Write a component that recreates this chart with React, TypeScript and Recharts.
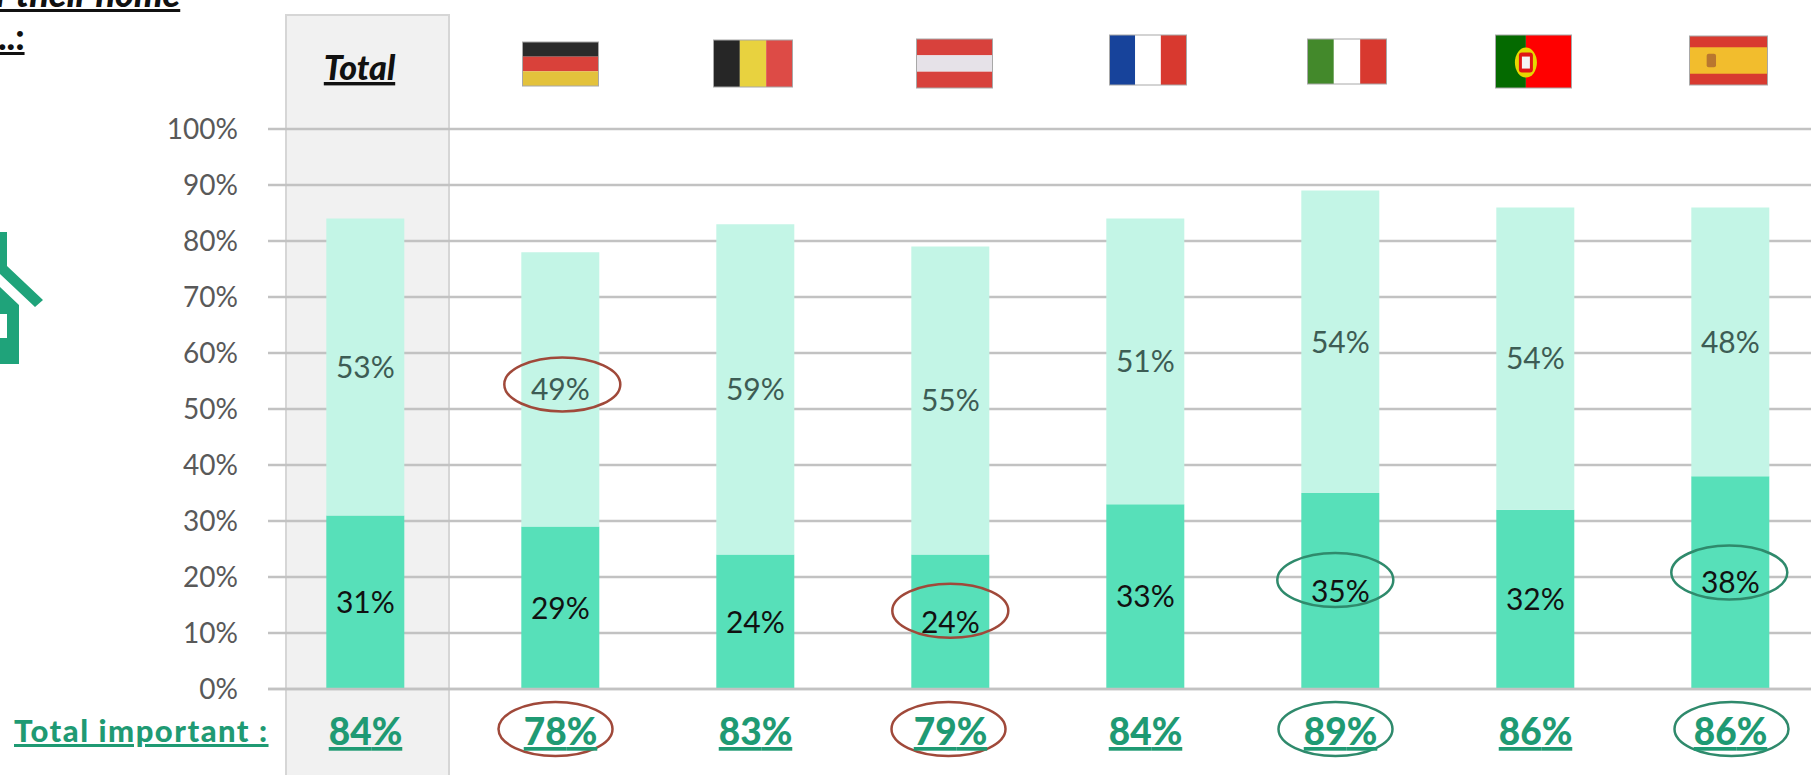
import React from "react";
import { Bar, BarChart, CartesianGrid, LabelList, XAxis, YAxis } from "recharts";

const countries = ["Total", "DE", "BE", "AT", "FR", "IT", "PT", "ES"];
const veryImportant = [31, 29, 24, 24, 33, 35, 32, 38];
const fairlyImportant = [53, 49, 59, 55, 51, 54, 54, 48];
const totalImportant = [84, 78, 83, 79, 84, 89, 86, 86];
const yTicks = [0, 10, 20, 30, 40, 50, 60, 70, 80, 90, 100];

const rows = countries.map((country, i) => ({
  country,
  veryImportant: veryImportant[i],
  fairlyImportant: fairlyImportant[i],
  totalImportant: totalImportant[i],
}));

const RED = "#a0493a";
const GREEN = "#2f8a6c";
const TEXT_GREEN = "#1f9a73";
const FONT = "Lato, sans-serif";

// hand drawn ovals on the slide: colour and offset from the label
const lightOvals: Record<string, [string, number, number]> = { DE: [RED, 2, -5] };
const darkOvals: Record<string, [string, number, number]> = {
  AT: [RED, 0, -11],
  IT: [GREEN, -5, -11],
  ES: [GREEN, -1, -10],
};
const totalOvals: Record<string, [string, number]> = {
  DE: [RED, -5],
  AT: [RED, -2],
  IT: [GREEN, -5],
  ES: [GREEN, 1],
};

// flag box relative to the column centre and the top of the plot
const flagBoxes: Record<string, [number, number, number, number]> = {
  DE: [-38, -88, 76, 44],
  BE: [-42, -90, 79, 47],
  AT: [-34, -91, 76, 49],
  FR: [-36, -95, 77, 50],
  IT: [-33, -91, 79, 45],
  PT: [-40, -95, 76, 53],
  ES: [-41, -94, 78, 49],
};

function Stripes({ colors, x, y, w, h, vertical }: any) {
  return (
    <g>
      {colors.map((c: string, i: number) =>
        vertical ? (
          <rect key={i} x={x + (w * i) / colors.length} y={y} width={w / colors.length} height={h} fill={c} />
        ) : (
          <rect key={i} x={x} y={y + (h * i) / colors.length} width={w} height={h / colors.length} fill={c} />
        )
      )}
    </g>
  );
}

function Flag({ code, cx, top }: { code: string; cx: number; top: number }) {
  const [dx, dy, w, h] = flagBoxes[code];
  const x = cx + dx;
  const y = top + dy + 7;
  let body = null;
  if (code === "DE") body = <Stripes colors={["#2b2b2b", "#d9413a", "#e3c23c"]} x={x} y={y} w={w} h={h} />;
  if (code === "BE") body = <Stripes vertical colors={["#262626", "#e8d23f", "#dd4b46"]} x={x} y={y} w={w} h={h} />;
  if (code === "AT") body = <Stripes colors={["#d8413c", "#e6e2e8", "#d8413c"]} x={x} y={y} w={w} h={h} />;
  if (code === "FR") body = <Stripes vertical colors={["#17439b", "#ffffff", "#d8392f"]} x={x} y={y} w={w} h={h} />;
  if (code === "IT") body = <Stripes vertical colors={["#43892b", "#ffffff", "#d8392f"]} x={x} y={y} w={w} h={h} />;
  if (code === "PT")
    body = (
      <g>
        <rect x={x} y={y} width={w * 0.4} height={h} fill="#046a00" />
        <rect x={x + w * 0.4} y={y} width={w * 0.6} height={h} fill="#ff0000" />
        <ellipse cx={x + w * 0.4} cy={y + h * 0.52} rx={11} ry={15} fill="#e6d800" />
        <rect x={x + w * 0.4 - 7} y={y + h * 0.52 - 10} width={14} height={20} rx={3} fill="#e01515" />
        <rect x={x + w * 0.4 - 4} y={y + h * 0.52 - 6} width={8} height={12} fill="#f4f4f4" />
      </g>
    );
  if (code === "ES")
    body = (
      <g>
        <rect x={x} y={y} width={w} height={h} fill="#d83a30" />
        <rect x={x} y={y + h * 0.23} width={w} height={h * 0.54} fill="#f2bd2d" />
        <rect x={x + w * 0.22} y={y + h * 0.36} width={w * 0.12} height={h * 0.28} rx={2} fill="#b9772f" />
      </g>
    );
  return (
    <g>
      {body}
      <rect x={x} y={y} width={w} height={h} fill="none" stroke="#a8a8a8" strokeWidth={1} />
    </g>
  );
}

function TopTick({ x, y, payload }: any) {
  const code = payload.value;
  const plotTop = y;
  if (code === "Total") {
    return (
      <text
        x={x - 6}
        y={plotTop - 43}
        textAnchor="middle"
        fontFamily={FONT}
        fontSize={34}
        fontWeight={900}
        fontStyle="italic"
        textDecoration="underline"
        fill="#111"
      >
        Total
      </text>
    );
  }
  return <Flag code={code} cx={x} top={plotTop} />;
}

function BottomTick({ x, y, payload, index }: any) {
  const code = payload.value;
  const oval = totalOvals[code];
  return (
    <g>
      {oval && (
        <ellipse cx={x + oval[1]} cy={y + 34} rx={57} ry={27} fill="none" stroke={oval[0]} strokeWidth={2.5} />
      )}
      <text
        x={x}
        y={y + 50}
        textAnchor="middle"
        fontFamily={FONT}
        fontSize={37}
        fontWeight={900}
        textDecoration="underline"
        fill={TEXT_GREEN}
      >
        {totalImportant[index]}%
      </text>
    </g>
  );
}

const segmentLabel = (ovals: Record<string, [string, number, number]>, color: string) =>
  function SegmentLabel({ x, y, width, height, value, index }: any) {
    const cx = x + width / 2;
    const cy = y + height / 2;
    const oval = ovals[countries[index]];
    return (
      <g>
        {oval && (
          <ellipse cx={cx + oval[1]} cy={cy + oval[2]} rx={58} ry={27} fill="none" stroke={oval[0]} strokeWidth={2.5} />
        )}
        <text x={cx} y={cy} dy="0.36em" textAnchor="middle" fontFamily={FONT} fontSize={30} fill={color}>
          {value}%
        </text>
      </g>
    );
  };

export default function App() {
  return (
    <div style={{ position: "fixed", left: 0, top: 0, width: 1811, height: 775, overflow: "hidden", background: "#fff" }}>
      {/* clipped slide title */}
      <div
        style={{
          position: "absolute",
          left: -4,
          top: -29,
          fontFamily: FONT,
          fontSize: 36,
          fontWeight: 900,
          fontStyle: "italic",
          textDecoration: "underline",
          color: "#111",
          whiteSpace: "nowrap",
        }}
      >
        r their home
      </div>
      <div
        style={{
          position: "absolute",
          left: -2,
          top: 14,
          fontFamily: FONT,
          fontSize: 36,
          fontWeight: 900,
          textDecoration: "underline",
          color: "#111",
        }}
      >
        ..:
      </div>

      {/* house icon cut off by the left edge */}
      <svg style={{ position: "absolute", left: 0, top: 0 }} width={50} height={380}>
        <path d="M0 232 H7 V266 L43 300 L35 307 L0 274 Z" fill="#1fa37a" />
        <path d="M0 287 L19 305 V364 H0 V338 H7 V314 H0 Z" fill="#1fa37a" />
      </svg>

      {/* grey column behind the Total bar */}
      <div
        style={{
          position: "absolute",
          left: 285,
          top: 14,
          width: 165,
          height: 780,
          boxSizing: "border-box",
          background: "#f1f1f1",
          border: "2px solid #d6d6d6",
        }}
      />

      <div style={{ position: "absolute", left: 0, top: 0 }}>
        <BarChart
          width={1830}
          height={775}
          data={rows}
          margin={{ top: 0, right: 2, bottom: 0, left: 148 }}
          barCategoryGap="29.9%"
        >
          <CartesianGrid vertical={false} stroke="#c2c2c2" strokeWidth={2.5} />
          <XAxis xAxisId="top" orientation="top" dataKey="country" height={129} axisLine={false} tickLine={false} tickMargin={0} tick={<TopTick />} interval={0} />
          <XAxis
            xAxisId="bottom"
            orientation="bottom"
            dataKey="country"
            height={86}
            axisLine={{ stroke: "#c2c2c2", strokeWidth: 2.5 }}
            tickLine={false}
            tickMargin={0}
            tick={<BottomTick />}
            interval={0}
          />
          <YAxis
            width={120}
            domain={[0, 100]}
            ticks={yTicks}
            axisLine={false}
            tickLine={false}
            tickSize={0}
            tickMargin={30}
            tickFormatter={(v: number) => `${v}%`}
            tick={{ fontFamily: FONT, fontSize: 28, fill: "#595959" }}
          />
          <Bar xAxisId="bottom" dataKey="veryImportant" stackId="a" fill="#57e0b9" isAnimationActive={false}>
            <LabelList dataKey="veryImportant" content={segmentLabel(darkOvals, "#111")} />
          </Bar>
          <Bar xAxisId="bottom" dataKey="fairlyImportant" stackId="a" fill="#c3f5e6" isAnimationActive={false}>
            <LabelList dataKey="fairlyImportant" content={segmentLabel(lightOvals, "#3d5c54")} />
          </Bar>
        </BarChart>
      </div>

      <div
        style={{
          position: "absolute",
          left: 14,
          top: 711,
          fontFamily: FONT,
          fontSize: 31,
          fontWeight: 900,
          letterSpacing: 1.5,
          textDecoration: "underline",
          color: TEXT_GREEN,
          whiteSpace: "nowrap",
        }}
      >
        Total important :
      </div>
    </div>
  );
}
